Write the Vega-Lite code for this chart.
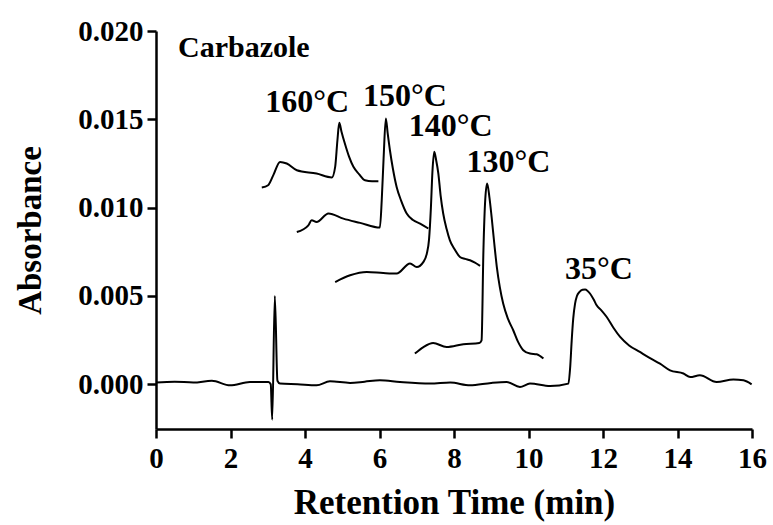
{
  "$schema": "https://vega.github.io/schema/vega-lite/v6.json",
  "width": 596,
  "height": 398,
  "autosize": {"type": "none"},
  "padding": {"left": 156, "top": 31, "right": 21, "bottom": 96},
  "background": "white",
  "config": {
    "view": {"stroke": null},
    "axis": {
      "grid": false,
      "domainColor": "black",
      "domainWidth": 2.5,
      "tickColor": "black",
      "tickWidth": 2.5,
      "tickSize": 9,
      "labelFont": "Liberation Serif",
      "labelFontWeight": "bold",
      "labelFontSize": 29,
      "labelColor": "black",
      "titleFont": "Liberation Serif",
      "titleFontWeight": "bold",
      "titleColor": "black"
    }
  },
  "datasets": {
    "traces": [
      {"t": 0.0, "a": 0.0001, "s": "35"},
      {"t": 0.5, "a": 0.00015, "s": "35"},
      {"t": 1.0, "a": 0.0001, "s": "35"},
      {"t": 1.5, "a": 0.0002, "s": "35"},
      {"t": 1.99, "a": -0.00006, "s": "35"},
      {"t": 2.52, "a": 0.00013, "s": "35"},
      {"t": 3.02, "a": 0.00013, "s": "35"},
      {"t": 3.08, "a": 0.0, "s": "35"},
      {"t": 3.12, "a": -0.0020, "s": "35"},
      {"t": 3.19, "a": 0.0050, "s": "35"},
      {"t": 3.26, "a": 0.0002, "s": "35"},
      {"t": 3.33, "a": 0.00004, "s": "35"},
      {"t": 3.8, "a": 0.0, "s": "35"},
      {"t": 4.31, "a": -0.00006, "s": "35"},
      {"t": 4.67, "a": 0.00017, "s": "35"},
      {"t": 5.21, "a": 0.00008, "s": "35"},
      {"t": 5.6, "a": 0.00015, "s": "35"},
      {"t": 6.01, "a": 0.00023, "s": "35"},
      {"t": 6.55, "a": 0.00013, "s": "35"},
      {"t": 7.36, "a": 0.00004, "s": "35"},
      {"t": 7.9, "a": 0.0001, "s": "35"},
      {"t": 8.43, "a": -0.00006, "s": "35"},
      {"t": 9.0, "a": 0.00008, "s": "35"},
      {"t": 9.41, "a": 0.00013, "s": "35"},
      {"t": 9.77, "a": -0.00015, "s": "35"},
      {"t": 10.04, "a": 0.00004, "s": "35"},
      {"t": 10.58, "a": -0.0001, "s": "35"},
      {"t": 11.07, "a": 0.00004, "s": "35"},
      {"t": 11.12, "a": 0.001, "s": "35"},
      {"t": 11.16, "a": 0.00249, "s": "35"},
      {"t": 11.20, "a": 0.0037, "s": "35"},
      {"t": 11.25, "a": 0.00457, "s": "35"},
      {"t": 11.30, "a": 0.0050, "s": "35"},
      {"t": 11.37, "a": 0.00523, "s": "35"},
      {"t": 11.45, "a": 0.00535, "s": "35"},
      {"t": 11.52, "a": 0.00536, "s": "35"},
      {"t": 11.58, "a": 0.0053, "s": "35"},
      {"t": 11.65, "a": 0.00514, "s": "35"},
      {"t": 11.75, "a": 0.0048, "s": "35"},
      {"t": 11.83, "a": 0.00447, "s": "35"},
      {"t": 11.95, "a": 0.0042, "s": "35"},
      {"t": 12.10, "a": 0.00381, "s": "35"},
      {"t": 12.28, "a": 0.0032, "s": "35"},
      {"t": 12.46, "a": 0.00268, "s": "35"},
      {"t": 12.70, "a": 0.0022, "s": "35"},
      {"t": 12.99, "a": 0.00183, "s": "35"},
      {"t": 13.25, "a": 0.0015, "s": "35"},
      {"t": 13.53, "a": 0.00117, "s": "35"},
      {"t": 13.80, "a": 0.00079, "s": "35"},
      {"t": 14.16, "a": 0.00061, "s": "35"},
      {"t": 14.34, "a": 0.00041, "s": "35"},
      {"t": 14.60, "a": 0.00051, "s": "35"},
      {"t": 15.05, "a": 0.00013, "s": "35"},
      {"t": 15.50, "a": 0.00027, "s": "35"},
      {"t": 15.77, "a": 0.00023, "s": "35"},
      {"t": 15.99, "a": 0.0, "s": "35"},

      {"t": 6.95, "a": 0.00174, "s": "130"},
      {"t": 7.18, "a": 0.00211, "s": "130"},
      {"t": 7.44, "a": 0.00234, "s": "130"},
      {"t": 7.80, "a": 0.00211, "s": "130"},
      {"t": 8.25, "a": 0.00227, "s": "130"},
      {"t": 8.68, "a": 0.00234, "s": "130"},
      {"t": 8.74, "a": 0.00249, "s": "130"},
      {"t": 8.79, "a": 0.00759, "s": "130"},
      {"t": 8.84, "a": 0.0105, "s": "130"},
      {"t": 8.89, "a": 0.01137, "s": "130"},
      {"t": 8.95, "a": 0.0106, "s": "130"},
      {"t": 9.01, "a": 0.00947, "s": "130"},
      {"t": 9.08, "a": 0.0080, "s": "130"},
      {"t": 9.15, "a": 0.00664, "s": "130"},
      {"t": 9.23, "a": 0.0055, "s": "130"},
      {"t": 9.32, "a": 0.00457, "s": "130"},
      {"t": 9.45, "a": 0.0037, "s": "130"},
      {"t": 9.59, "a": 0.00306, "s": "130"},
      {"t": 9.72, "a": 0.0024, "s": "130"},
      {"t": 9.86, "a": 0.00193, "s": "130"},
      {"t": 10.04, "a": 0.00174, "s": "130"},
      {"t": 10.22, "a": 0.0017, "s": "130"},
      {"t": 10.40, "a": 0.00146, "s": "130"},

      {"t": 4.81, "a": 0.00579, "s": "140"},
      {"t": 5.21, "a": 0.00617, "s": "140"},
      {"t": 5.66, "a": 0.00636, "s": "140"},
      {"t": 6.10, "a": 0.0063, "s": "140"},
      {"t": 6.46, "a": 0.00627, "s": "140"},
      {"t": 6.82, "a": 0.00684, "s": "140"},
      {"t": 7.0, "a": 0.00664, "s": "140"},
      {"t": 7.18, "a": 0.00693, "s": "140"},
      {"t": 7.27, "a": 0.0074, "s": "140"},
      {"t": 7.33, "a": 0.0082, "s": "140"},
      {"t": 7.38, "a": 0.0100, "s": "140"},
      {"t": 7.42, "a": 0.0120, "s": "140"},
      {"t": 7.47, "a": 0.01316, "s": "140"},
      {"t": 7.52, "a": 0.0127, "s": "140"},
      {"t": 7.58, "a": 0.01193, "s": "140"},
      {"t": 7.64, "a": 0.0107, "s": "140"},
      {"t": 7.71, "a": 0.00967, "s": "140"},
      {"t": 7.80, "a": 0.0088, "s": "140"},
      {"t": 7.89, "a": 0.00815, "s": "140"},
      {"t": 8.0, "a": 0.0077, "s": "140"},
      {"t": 8.16, "a": 0.00721, "s": "140"},
      {"t": 8.30, "a": 0.0071, "s": "140"},
      {"t": 8.43, "a": 0.00702, "s": "140"},
      {"t": 8.55, "a": 0.0069, "s": "140"},
      {"t": 8.70, "a": 0.0067, "s": "140"},

      {"t": 3.78, "a": 0.00862, "s": "150"},
      {"t": 4.09, "a": 0.009, "s": "150"},
      {"t": 4.18, "a": 0.00929, "s": "150"},
      {"t": 4.31, "a": 0.00919, "s": "150"},
      {"t": 4.63, "a": 0.00967, "s": "150"},
      {"t": 5.03, "a": 0.00938, "s": "150"},
      {"t": 5.48, "a": 0.00914, "s": "150"},
      {"t": 6.01, "a": 0.00887, "s": "150"},
      {"t": 6.06, "a": 0.01042, "s": "150"},
      {"t": 6.11, "a": 0.0128, "s": "150"},
      {"t": 6.17, "a": 0.01505, "s": "150"},
      {"t": 6.22, "a": 0.0142, "s": "150"},
      {"t": 6.28, "a": 0.01325, "s": "150"},
      {"t": 6.36, "a": 0.0122, "s": "150"},
      {"t": 6.46, "a": 0.01117, "s": "150"},
      {"t": 6.58, "a": 0.0104, "s": "150"},
      {"t": 6.73, "a": 0.00967, "s": "150"},
      {"t": 6.90, "a": 0.0093, "s": "150"},
      {"t": 7.09, "a": 0.0091, "s": "150"},
      {"t": 7.31, "a": 0.00882, "s": "150"},

      {"t": 2.84, "a": 0.01114, "s": "160"},
      {"t": 3.01, "a": 0.01127, "s": "160"},
      {"t": 3.15, "a": 0.01184, "s": "160"},
      {"t": 3.33, "a": 0.01259, "s": "160"},
      {"t": 3.51, "a": 0.0125, "s": "160"},
      {"t": 3.78, "a": 0.01212, "s": "160"},
      {"t": 4.31, "a": 0.01193, "s": "160"},
      {"t": 4.72, "a": 0.01171, "s": "160"},
      {"t": 4.81, "a": 0.01231, "s": "160"},
      {"t": 4.87, "a": 0.0138, "s": "160"},
      {"t": 4.92, "a": 0.0148, "s": "160"},
      {"t": 4.98, "a": 0.0143, "s": "160"},
      {"t": 5.07, "a": 0.01363, "s": "160"},
      {"t": 5.18, "a": 0.0129, "s": "160"},
      {"t": 5.30, "a": 0.01231, "s": "160"},
      {"t": 5.45, "a": 0.0119, "s": "160"},
      {"t": 5.61, "a": 0.01155, "s": "160"},
      {"t": 5.80, "a": 0.0115, "s": "160"},
      {"t": 5.97, "a": 0.0115, "s": "160"}
    ],
    "temps": [
      {"t": 4.06, "a": 0.01542, "label": "160°C"},
      {"t": 6.68, "a": 0.01575, "label": "150°C"},
      {"t": 7.91, "a": 0.01404, "label": "140°C"},
      {"t": 9.46, "a": 0.0120, "label": "130°C"},
      {"t": 11.89, "a": 0.00595, "label": "35°C"}
    ],
    "names": [
      {"t": 0.59, "a": 0.01852, "label": "Carbazole"}
    ]
  },
  "encoding": {
    "x": {
      "field": "t", "type": "quantitative",
      "scale": {"domain": [0, 16], "nice": false, "zero": false},
      "axis": {"values": [0, 2, 4, 6, 8, 10, 12, 14, 16], "title": "Retention Time (min)", "titleFontSize": 35, "labelPadding": 6, "titlePadding": 12, "labelFlush": false}
    },
    "y": {
      "field": "a", "type": "quantitative",
      "scale": {"domain": [-0.00253, 0.020], "nice": false, "zero": false},
      "axis": {"values": [0, 0.005, 0.01, 0.015, 0.02], "format": ".3f", "title": "Absorbance", "titleFontSize": 33, "labelPadding": 4, "titlePadding": 30, "labelFlush": false}
    }
  },
  "layer": [
    {
      "data": {"name": "traces"},
      "mark": {"type": "line", "color": "black", "strokeWidth": 2, "interpolate": "monotone"},
      "encoding": {"detail": {"field": "s", "type": "nominal"}}
    },
    {
      "data": {"name": "temps"},
      "mark": {"type": "text", "font": "Liberation Serif", "fontWeight": "bold", "fontSize": 32, "align": "center", "baseline": "alphabetic", "color": "black"},
      "encoding": {"text": {"field": "label"}}
    },
    {
      "data": {"name": "names"},
      "mark": {"type": "text", "font": "Liberation Serif", "fontWeight": "bold", "fontSize": 30, "align": "left", "baseline": "alphabetic", "color": "black"},
      "encoding": {"text": {"field": "label"}}
    }
  ]
}
